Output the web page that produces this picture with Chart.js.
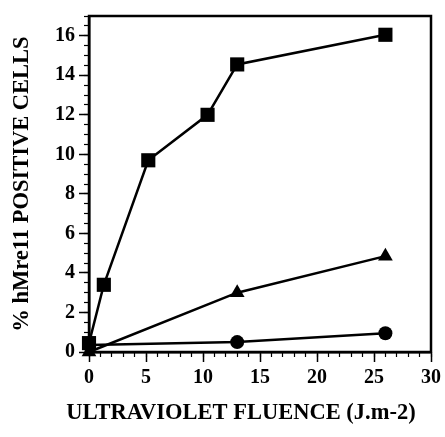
<!DOCTYPE html>
<html><head><meta charset="utf-8">
<script src="https://cdn.jsdelivr.net/npm/chart.js@4/dist/chart.umd.min.js"></script>
<style>html,body{margin:0;padding:0;background:#fff}canvas{display:block}</style>
</head><body>
<canvas id="c" width="445" height="437"></canvas>
<script>
// Data
const fluenceSquare = [0, 1.3, 5.2, 10.4, 13, 26];
const cellsSquare   = [0.45, 3.4, 9.7, 12, 14.55, 16.05];
const fluenceTriangle = [0, 13, 26];
const cellsTriangle   = [0, 3.0, 4.85];
const fluenceCircle = [0, 13, 26];
const cellsCircle   = [0.35, 0.5, 0.95];

const xTitle = 'ULTRAVIOLET FLUENCE (J.m-2)';
const yTitle = '% hMre11 POSITIVE CELLS';

const FONT = "'Liberation Serif', 'Times New Roman', serif";

function pts(xs, ys) { return xs.map((x, i) => ({x: x, y: ys[i]})); }

const boxPlugin = {
  id: 'box',
  beforeDatasetsDraw(chart) {
    const {ctx, chartArea: a} = chart;
    ctx.save();
    ctx.strokeStyle = '#000';
    ctx.lineWidth = 2.5;
    ctx.strokeRect(a.left, a.top, a.right - a.left, a.bottom - a.top);
    ctx.restore();
  },
  afterDraw(chart) {
    // x-axis title, centred slightly left of the plot centre as in the reference
    const {ctx, chartArea: a} = chart;
    const sx = chart.scales.x;
    ctx.save();
    ctx.fillStyle = '#000';
    ctx.font = "bold 22.5px " + FONT;
    ctx.textAlign = 'center';
    ctx.textBaseline = 'middle';
    ctx.fillText(xTitle, (a.left + a.right) / 2 - 19, sx.bottom - 24);
    ctx.restore();
  }
};

new Chart(document.getElementById('c'), {
  type: 'scatter',
  data: {
    datasets: [
      {
        label: 'squares', data: pts(fluenceSquare, cellsSquare), showLine: true,
        borderColor: '#000', borderWidth: 2.5, backgroundColor: '#000',
        pointStyle: 'rect', pointRadius: 10, pointHoverRadius: 10, pointBorderWidth: 0,
        order: 1, clip: false
      },
      {
        label: 'triangles', data: pts(fluenceTriangle, cellsTriangle), showLine: true,
        borderColor: '#000', borderWidth: 2.5, backgroundColor: '#000',
        pointStyle: 'triangle', pointRadius: 8.5, pointHoverRadius: 8.5, pointBorderWidth: 0,
        order: 2, clip: false
      },
      {
        label: 'circles', data: pts(fluenceCircle, cellsCircle), showLine: true,
        borderColor: '#000', borderWidth: 2.5, backgroundColor: '#000',
        pointStyle: 'circle', pointRadius: 7, pointHoverRadius: 7, pointBorderWidth: 0,
        order: 3, clip: false
      }
    ]
  },
  options: {
    responsive: false,
    animation: false,
    events: [],
    layout: {padding: {top: 12, right: 13, left: 0, bottom: 0}},
    plugins: {legend: {display: false}, tooltip: {enabled: false}},
    scales: {
      x: {
        type: 'linear', position: 'bottom', min: 0, max: 30,
        afterFit: s => { s.height = 85; },
        border: {display: true, color: '#000', width: 2.5},
        grid: {display: true, drawOnChartArea: false, tickLength: 10, tickWidth: 1.5, tickColor: '#000'},
        ticks: {stepSize: 5, includeBounds: false, color: '#000', padding: 4, maxRotation: 0,
                font: {family: FONT, size: 20, weight: 'bold'}},
        title: {display: false, text: xTitle}
      },
      xMinor: {
        type: 'linear', axis: 'x', position: {y: 0}, min: 0, max: 30,
        border: {display: false},
        grid: {display: true, drawOnChartArea: false, tickLength: 5, tickWidth: 1.2, tickColor: '#000'},
        ticks: {stepSize: 1, includeBounds: false, display: false}
      },
      y: {
        type: 'linear', position: 'left', min: 0, max: 17,
        afterFit: s => { s.width = 89; },
        border: {display: true, color: '#000', width: 2.5},
        grid: {display: true, drawOnChartArea: false, tickLength: 10, tickWidth: 1.5, tickColor: '#000'},
        ticks: {stepSize: 2, includeBounds: false, color: '#000', padding: 4,
                font: {family: FONT, size: 20, weight: 'bold'}},
        title: {display: true, text: yTitle, color: '#000', padding: {top: 9, bottom: 9},
                font: {family: FONT, size: 22.5, weight: 'bold'}}
      },
      yMinor: {
        type: 'linear', axis: 'y', position: {x: 0}, min: 0, max: 17,
        border: {display: false},
        grid: {display: true, drawOnChartArea: false, tickLength: 5, tickWidth: 1.2, tickColor: '#000'},
        ticks: {stepSize: 0.5, includeBounds: false, display: false}
      }
    }
  },
  plugins: [boxPlugin]
});
</script>
</body></html>
